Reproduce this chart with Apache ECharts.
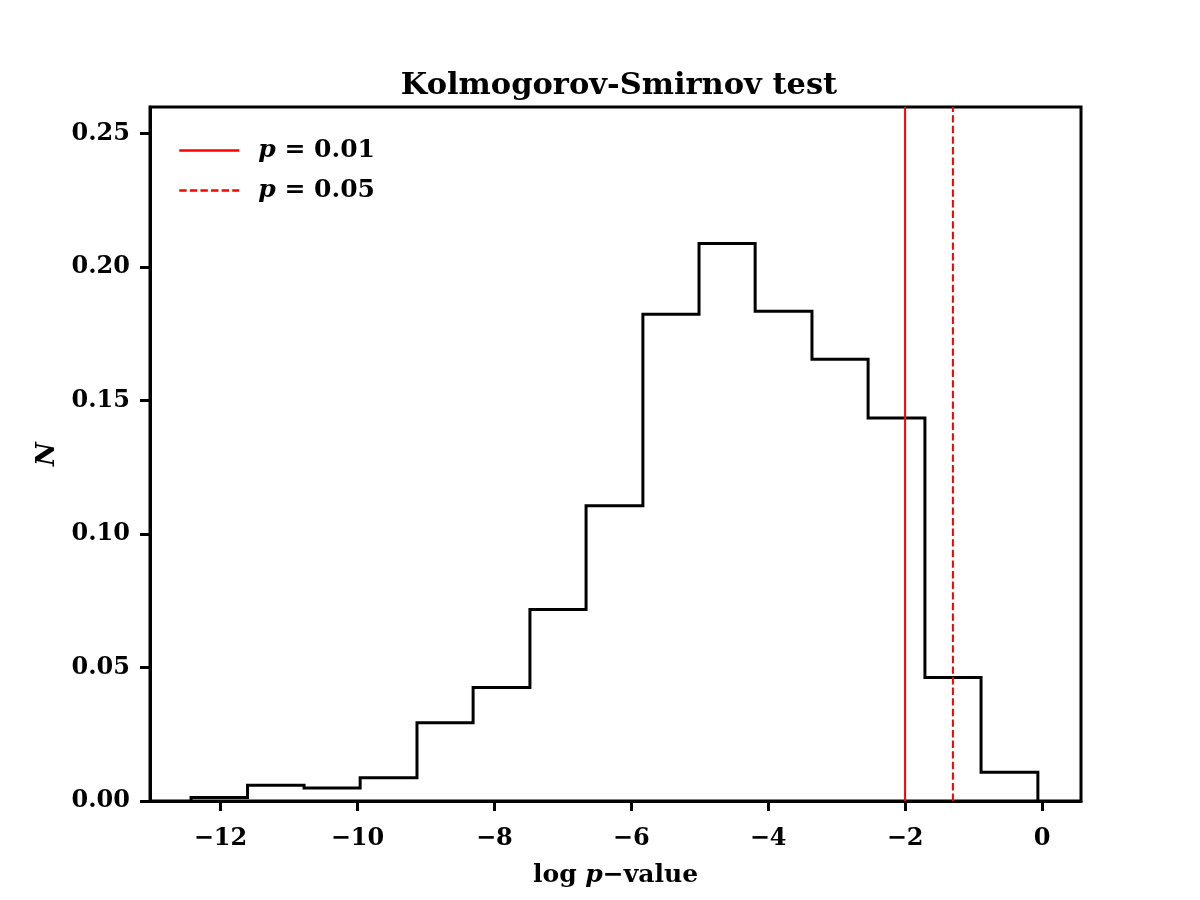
<!DOCTYPE html>
<html>
<head>
<meta charset="utf-8">
<script src="https://cdn.jsdelivr.net/npm/echarts@6/dist/echarts.min.js"></script>
<style>
  html, body { margin: 0; padding: 0; background: #fff; }
  #chart { width: 1200px; height: 900px; }
</style>
</head>
<body>
<div id="chart"></div>
<script>
// histogram of log10 p-values (step outline)
const binEdges = [-12.43, -11.605, -10.78, -9.96, -9.13, -8.31, -7.48, -6.66,
  -5.83, -5.01, -4.19, -3.36, -2.54, -1.71, -0.89, -0.06]
const binHeights = [0.0013, 0.0059, 0.0049, 0.0087, 0.0293, 0.0425, 0.0717, 0.1106,
  0.1824, 0.2089, 0.1835, 0.1655, 0.1435, 0.0463, 0.0108]
const xTicks = [-12, -10, -8, -6, -4, -2, 0]
const yTicks = [0, 0.05, 0.1, 0.15, 0.2, 0.25]
const thresholds = [
  { name: 'p001', label: '0.01', x: -2, dash: 'solid' },
  { name: 'p005', label: '0.05', x: -1.301, dash: [7.4, 3.2] },
]

const font = '"DejaVu Serif", serif'

// build outline points from edges + heights
const stepPoints = [[binEdges[0], 0]]
binHeights.forEach((h, i) => {
  stepPoints.push([binEdges[i], h])
  stepPoints.push([binEdges[i + 1], h])
})
stepPoints.push([binEdges[binEdges.length - 1], 0])

const fmtMinus = (v) => (v < 0 ? '\u2212' + Math.abs(v) : String(v))

const chart = echarts.init(document.getElementById('chart'))

chart.setOption({
  backgroundColor: '#fff',
  animation: false,
  title: {
    text: 'Kolmogorov-Smirnov test',
    left: 614,
    textAlign: 'center',
    top: 66,
    textStyle: { fontFamily: font, fontWeight: 'bold', fontSize: 30.5, color: '#000' },
  },
  legend: {
    orient: 'vertical',
    left: 173,
    top: 133,
    itemWidth: 60,
    itemHeight: 14,
    itemGap: 15,
    data: thresholds.map(t => t.name),
    itemStyle: { opacity: 0 },
    lineStyle: { width: 2.5 },
    formatter: (name) => {
      const t = thresholds.find(d => d.name === name)
      return '{i|p} = ' + t.label
    },
    textStyle: {
      fontFamily: font,
      fontWeight: 'bold',
      fontSize: 25,
      color: '#000',
      padding: [0, 0, 0, 14],
      rich: {
        i: { fontFamily: font, fontWeight: 'bold', fontStyle: 'italic', fontSize: 25 },
      },
    },
  },
  grid: {
    left: 150,
    right: 119,
    top: 107,
    bottom: 99,
    show: true,
    borderColor: '#000',
    borderWidth: 3,
    backgroundColor: 'transparent',
  },
  xAxis: {
    type: 'value',
    min: -13.03,
    max: 0.57,
    name: 'log {i|p}\u2212value',
    nameLocation: 'middle',
    nameGap: 62,
    nameTextStyle: {
      fontFamily: font, fontWeight: 'bold', fontSize: 25, color: '#000',
      rich: { i: { fontFamily: font, fontWeight: 'bold', fontStyle: 'italic', fontSize: 25 } },
    },
    axisLine: { show: true, onZero: false, lineStyle: { color: '#000', width: 3 } },
    axisTick: { show: true, length: 10, lineStyle: { color: '#000', width: 3 }, customValues: xTicks },
    axisLabel: {
      color: '#000',
      fontFamily: font,
      fontWeight: 'bold',
      fontSize: 24,
      margin: 26,
      customValues: xTicks,
      formatter: fmtMinus,
    },
    splitLine: { show: false },
  },
  yAxis: {
    type: 'value',
    min: 0,
    max: 0.26,
    name: 'N',
    nameLocation: 'middle',
    nameGap: 90,
    nameRotate: 90,
    nameTextStyle: { fontFamily: font, fontWeight: 'bold', fontStyle: 'italic', fontSize: 26, color: '#000' },
    axisLine: { show: true, onZero: false, lineStyle: { color: '#000', width: 3 } },
    axisTick: { show: true, length: 10, lineStyle: { color: '#000', width: 3 }, customValues: yTicks },
    axisLabel: {
      color: '#000',
      fontFamily: font,
      fontWeight: 'bold',
      fontSize: 24,
      margin: 20,
      customValues: yTicks,
      formatter: (v) => v.toFixed(2),
    },
    splitLine: { show: false },
  },
  series: [
    {
      name: 'hist',
      type: 'line',
      data: stepPoints,
      symbol: 'none',
      lineStyle: { color: '#000', width: 3, join: 'miter' },
      z: 2,
    },
    ...thresholds.map(t => ({
      name: t.name,
      type: 'line',
      data: [[t.x, 0], [t.x, 0.26]],
      symbol: 'none',
      itemStyle: { color: '#ff0000' },
      lineStyle: { color: '#ff0000', width: 2, type: t.dash },
      z: 3,
    })),
  ],
})
</script>
</body>
</html>
